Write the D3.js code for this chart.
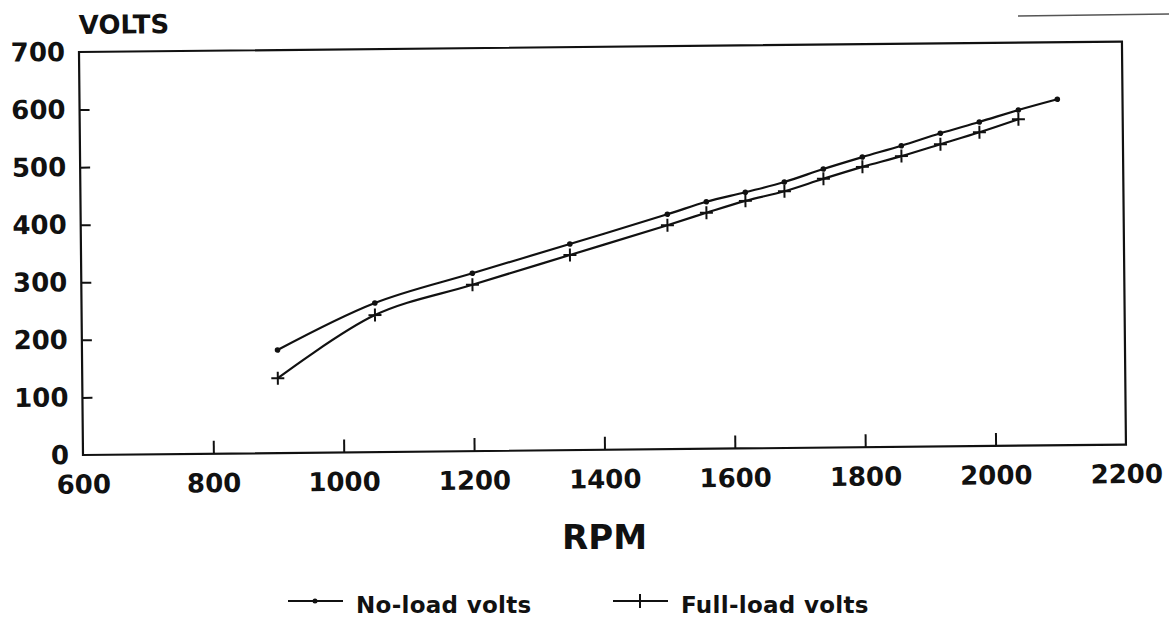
<!DOCTYPE html>
<html>
<head>
<meta charset="utf-8">
<script src="https://cdn.jsdelivr.net/npm/d3@7"></script>
<style>
body { margin: 0; background: #fff; }
text { font-family: "DejaVu Sans", Arial, sans-serif; font-weight: bold; fill: #111; }
</style>
</head>
<body>
<div id="chart"></div>
<script>
// values
var rpm = [900, 1050, 1200, 1350, 1500, 1560, 1620, 1680, 1740, 1800, 1860, 1920, 1980, 2040, 2100];
var noLoadVolts = [179, 259, 309, 358, 408, 429, 445, 462, 484, 504, 523, 544, 563, 583, 601];
var fullLoadRpm = [900, 1050, 1200, 1350, 1500, 1560, 1620, 1680, 1740, 1800, 1860, 1920, 1980, 2040];
var fullLoadVolts = [130, 238, 289, 339, 389, 410, 430, 446, 467, 487, 505, 525, 545, 567];
var xTicks = [600, 800, 1000, 1200, 1400, 1600, 1800, 2000, 2200];
var yTicks = [0, 100, 200, 300, 400, 500, 600, 700];
var seriesNames = ['No-load volts', 'Full-load volts'];

var W = 1169, H = 633;
var margins = {top: 52, left: 83};
var width = 1043, height = 403;

var svg = d3.select('#chart').append('svg')
	.attr('width', W)
	.attr('height', H);

// the scan is a little tilted
var g = svg.append('g')
	.attr('transform', 'rotate(-0.57,' + margins.left + ',' + (margins.top + height) + ') translate(' + margins.left + ',' + margins.top + ')');

var xscale = d3.scaleLinear().domain([600, 2200]).range([0, width]);
var yscale = d3.scaleLinear().domain([0, 700]).range([height, 0]);

var haxis = d3.axisBottom(xscale).tickValues(xTicks).tickFormat(d3.format('d'))
	.tickSizeInner(-13).tickSizeOuter(0).tickPadding(20);
var vaxis = d3.axisLeft(yscale).tickValues(yTicks).tickFormat(d3.format('d'))
	.tickSizeInner(-10).tickSizeOuter(0).tickPadding(14);

var hguide = g.append('g').attr('transform', 'translate(0,' + height + ')').call(haxis);
var vguide = g.append('g').call(vaxis);

[hguide, vguide].forEach(function(guide) {
	guide.select('.domain').remove();
	guide.selectAll('line').style('stroke', '#111').style('stroke-width', 2);
	guide.selectAll('text').style('font-size', '26px').style('font-family', '"DejaVu Sans", Arial, sans-serif').style('font-weight', 'bold');
});
// no tick marks at the frame edges
hguide.selectAll('.tick').filter(function(d) { return d === 600 || d === 2200; }).select('line').remove();
vguide.selectAll('.tick').filter(function(d) { return d === 0 || d === 700; }).select('line').remove();

g.append('rect')
	.attr('width', width)
	.attr('height', height)
	.style('fill', 'none')
	.style('stroke', '#111')
	.style('stroke-width', 2.2);

g.append('text')
	.attr('x', 0)
	.attr('y', -18)
	.style('font-size', '26px')
	.text('VOLTS');

var line = d3.line()
	.x(function(d) { return xscale(d[0]); })
	.y(function(d) { return yscale(d[1]); })
	.curve(d3.curveCatmullRom);

var noLoad = d3.zip(rpm, noLoadVolts);
var fullLoad = d3.zip(fullLoadRpm, fullLoadVolts);

g.append('path').datum(noLoad).attr('d', line)
	.style('fill', 'none').style('stroke', '#111').style('stroke-width', 2.2);
g.append('path').datum(fullLoad).attr('d', line)
	.style('fill', 'none').style('stroke', '#111').style('stroke-width', 2.2);

g.selectAll('circle.nl').data(noLoad)
	.enter().append('circle')
	.attr('class', 'nl')
	.attr('cx', function(d) { return xscale(d[0]); })
	.attr('cy', function(d) { return yscale(d[1]); })
	.attr('r', 2.8)
	.style('fill', '#111');

function plus(sel, s) {
	sel.append('path')
		.attr('d', 'M' + (-s) + ',0H' + s + 'M0,' + (-s) + 'V' + s)
		.style('fill', 'none').style('stroke', '#111').style('stroke-width', 2);
}

g.selectAll('g.fl').data(fullLoad)
	.enter().append('g')
	.attr('class', 'fl')
	.attr('transform', function(d) { return 'translate(' + xscale(d[0]) + ',' + yscale(d[1]) + ')'; })
	.call(plus, 6.5);

svg.append('text')
	.attr('x', margins.left + width / 2)
	.attr('y', 549)
	.attr('text-anchor', 'middle')
	.style('font-size', '34px')
	.text('RPM');

// legend
var legend = svg.append('g').attr('transform', 'translate(288,601)');
var items = legend.selectAll('g').data(seriesNames)
	.enter().append('g')
	.attr('transform', function(d, i) { return 'translate(' + (i * 325) + ',0)'; });
items.append('line')
	.attr('x1', 0).attr('x2', 55)
	.style('stroke', '#111').style('stroke-width', 2);
items.filter(function(d, i) { return i === 0; }).append('circle')
	.attr('cx', 27).attr('r', 2.5).style('fill', '#111');
items.filter(function(d, i) { return i === 1; }).append('g')
	.attr('transform', 'translate(27,0)').call(plus, 7);
items.append('text')
	.attr('x', 68)
	.attr('y', 12)
	.style('font-size', '23px')
	.style('letter-spacing', '0.3px')
	.text(function(d) { return d; });

// scanner streak at the top right
svg.append('line')
	.attr('x1', 1018).attr('y1', 16).attr('x2', 1169).attr('y2', 14)
	.style('stroke', '#555').style('stroke-width', 1.5);
</script>
</body>
</html>
